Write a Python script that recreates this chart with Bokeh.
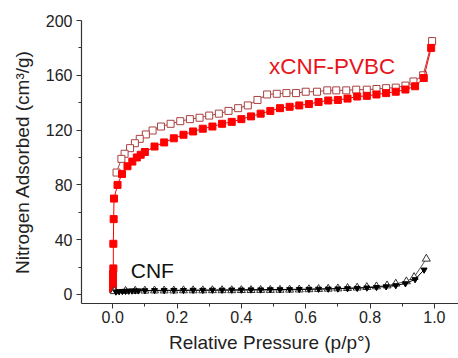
from bokeh.plotting import figure
from bokeh.models import Range1d, Label, FixedTicker
from bokeh.embed import file_html
from bokeh.resources import INLINE

# xCNF-PVBC adsorption (filled red squares)
pvbc_ads_x = [0.001, 0.001, 0.001, 0.001, 0.002, 0.002, 0.003, 0.004, 0.015, 0.029,
              0.046, 0.061, 0.075, 0.087, 0.10, 0.13, 0.16, 0.19, 0.22, 0.25,
              0.28, 0.31, 0.34, 0.37, 0.40, 0.43, 0.46, 0.49, 0.52, 0.55,
              0.58, 0.61, 0.64, 0.67, 0.70, 0.73, 0.76, 0.79, 0.82, 0.85,
              0.88, 0.91, 0.94, 0.967, 0.99]
pvbc_ads_y = [4, 8, 12, 15, 19, 37, 55, 70, 80, 88,
              93.6, 97, 100, 102, 104, 108, 111, 114, 116.6, 119,
              121, 122.6, 124.6, 126, 128, 130, 132, 134, 136, 137,
              138, 139, 140.5, 141.6, 142, 143, 144.5, 145, 146, 147,
              148, 149.6, 152, 158, 180]

# xCNF-PVBC desorption (open squares)
pvbc_des_x = [0.993, 0.965, 0.935, 0.91, 0.88, 0.85, 0.82, 0.79, 0.757, 0.726,
              0.695, 0.667, 0.635, 0.60, 0.57, 0.54, 0.51, 0.48, 0.45, 0.42,
              0.39, 0.36, 0.33, 0.30, 0.27, 0.24, 0.21, 0.18, 0.15, 0.124,
              0.103, 0.084, 0.069, 0.054, 0.037, 0.027, 0.012]
pvbc_des_y = [185, 160, 155.5, 152.5, 151, 150.6, 150, 149.5, 149.5, 149,
              149, 149, 148, 148, 147, 147, 146.5, 146, 142, 138,
              136, 134, 132, 130.6, 129, 128, 126.5, 124.6, 122.6, 119.7,
              116.8, 113.6, 110.4, 106.8, 102.7, 99, 89]

# CNF adsorption (filled black triangles)
cnf_ads_x = [0.01, 0.02, 0.03, 0.04, 0.05, 0.06, 0.07, 0.08, 0.10, 0.13,
             0.16, 0.19, 0.22, 0.25, 0.28, 0.31, 0.34, 0.37, 0.40, 0.43,
             0.46, 0.49, 0.52, 0.55, 0.58, 0.61, 0.64, 0.67, 0.70, 0.73,
             0.76, 0.79, 0.82, 0.85, 0.88, 0.91, 0.94, 0.968]
cnf_ads_y = [2.0, 2.2, 2.4, 2.5, 2.6, 2.7, 2.8, 2.8, 2.9, 3.0,
             3.0, 3.1, 3.1, 3.2, 3.2, 3.3, 3.3, 3.4, 3.4, 3.5,
             3.5, 3.6, 3.6, 3.7, 3.8, 3.9, 4.0, 4.1, 4.2, 4.4,
             4.6, 4.9, 5.3, 5.8, 6.6, 8.0, 11.0, 18.0]

# CNF desorption (open triangles)
cnf_des_x = [0.975, 0.937, 0.913, 0.88, 0.853, 0.82, 0.79, 0.76, 0.73, 0.70,
             0.67, 0.64, 0.61, 0.58, 0.55, 0.52, 0.49, 0.46, 0.43, 0.40,
             0.37, 0.34, 0.31, 0.28, 0.25, 0.22, 0.19, 0.16, 0.13, 0.10,
             0.07, 0.04, 0.005]
cnf_des_y = [26, 12.6, 9.5, 7.8, 6.5, 5.8, 5.3, 4.9, 4.6, 4.3,
             4.1, 3.9, 3.7, 3.5, 3.4, 3.3, 3.2, 3.2, 3.1, 3.1,
             3.0, 3.0, 3.0, 2.9, 2.9, 2.9, 2.8, 2.8, 2.8, 2.7,
             2.6, 2.5, 2.3]

x_ticks = [0.0, 0.2, 0.4, 0.6, 0.8, 1.0]
y_ticks = [0, 40, 80, 120, 160, 200]

FONT = "Liberation Sans"

p = figure(width=458, height=358, output_backend="svg", toolbar_location=None,
           x_range=Range1d(-0.097, 1.075), y_range=Range1d(-6.6, 200),
           min_border_left=81, min_border_top=20, min_border_bottom=55,
           min_border_right=0)
p.outline_line_color = None
p.grid.visible = False
p.background_fill_color = "white"

p.line(pvbc_des_x, pvbc_des_y, line_color="#a84040", line_width=1)
p.scatter(pvbc_des_x, pvbc_des_y, marker="square", size=7, fill_color="white",
          line_color="#a84040", line_width=1)
p.line(pvbc_ads_x, pvbc_ads_y, line_color="#ff0000", line_width=1)
p.scatter(pvbc_ads_x, pvbc_ads_y, marker="square", size=7, fill_color="#ff0000",
          line_color="#ff0000")

p.line(cnf_des_x, cnf_des_y, line_color="#555555", line_width=1)
p.scatter(cnf_des_x, cnf_des_y, marker="triangle", size=8, fill_color="white",
          line_color="#333333", line_width=1)
p.line(cnf_ads_x, cnf_ads_y, line_color="#000000", line_width=1)
p.scatter(cnf_ads_x, cnf_ads_y, marker="inverted_triangle", size=6, fill_color="#000000",
          line_color="#000000")

p.add_layout(Label(x=0.486, y=166.5, text="xCNF-PVBC", text_color="#e8141c",
                   text_font=FONT, text_font_size="22.5px", text_baseline="alphabetic"))
p.add_layout(Label(x=0.056, y=17.5, text="CNF", text_color="#111111",
                   text_font=FONT, text_font_size="21px", text_baseline="alphabetic"))

for ax in (p.xaxis[0], p.yaxis[0]):
    ax.axis_line_color = "#333333"
    ax.axis_line_width = 1.2
    ax.major_tick_line_color = "#333333"
    ax.minor_tick_line_color = "#333333"
    ax.major_tick_out = 5
    ax.major_tick_in = 0
    ax.minor_tick_out = 3
    ax.minor_tick_in = 0
    ax.major_label_text_font = FONT
    ax.major_label_text_font_size = "16px"
    ax.major_label_text_color = "#222222"
    ax.axis_label_text_font = FONT
    ax.axis_label_text_font_size = "19px"
    ax.axis_label_text_font_style = "normal"
    ax.axis_label_text_color = "#222222"

p.xaxis.ticker = FixedTicker(ticks=x_ticks, minor_ticks=[-0.1, 0.1, 0.3, 0.5, 0.7, 0.9])
p.yaxis.ticker = FixedTicker(ticks=y_ticks, minor_ticks=[20, 60, 100, 140, 180])
p.xaxis.major_label_overrides = {t: f"{t:.1f}" for t in x_ticks}
p.xaxis.axis_label = "Relative Pressure (p/p°)"
p.yaxis.axis_label = "Nitrogen Adsorbed (cm³/g)"
p.xaxis.major_label_standoff = 2
p.yaxis.major_label_standoff = 4
p.xaxis.axis_label_standoff = 6
p.yaxis.axis_label_standoff = 10

open("out.html", "w").write(file_html(p, INLINE))
